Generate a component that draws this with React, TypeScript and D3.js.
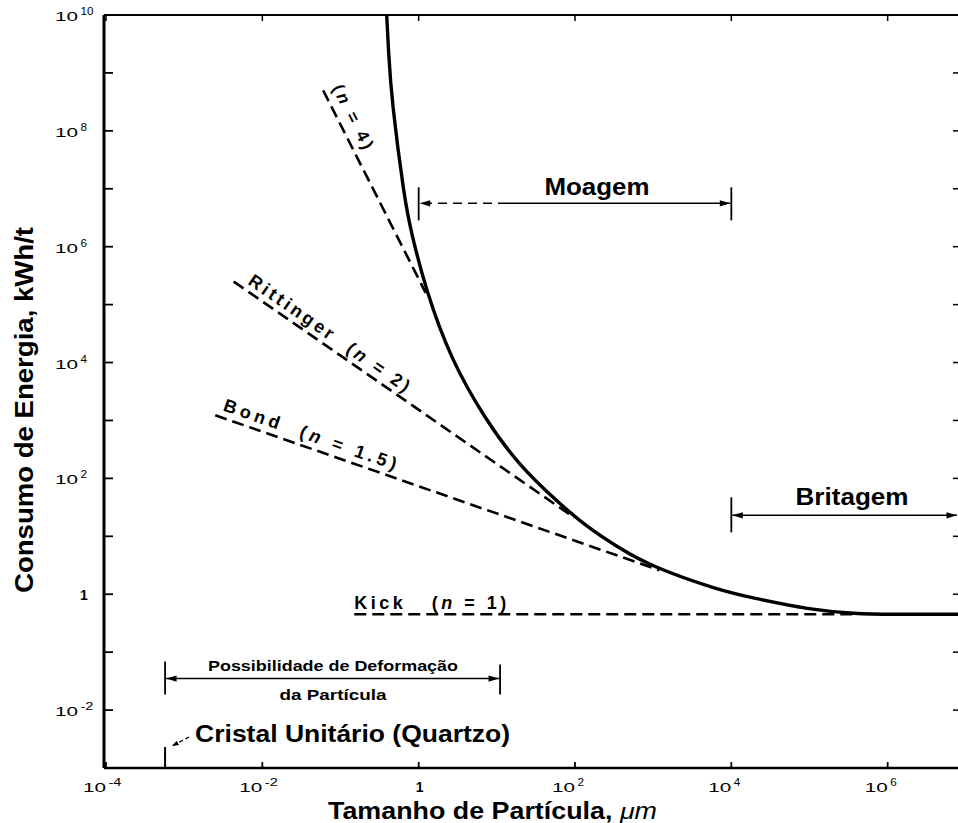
import React from 'react';
import * as d3 from 'd3';

const W = 958;
const H = 823;

// axis ticks (exponents of 10)
const yTickExps = [-2, 0, 2, 4, 6, 8, 10];
const yAllExps = [-3, -2, -1, 0, 1, 2, 3, 4, 5, 6, 7, 8, 9, 10];
const xTickExps = [-4, -2, 0, 2, 4, 6];

// solid curve: particle size (µm) vs energy (kWh/t)
const curveSize = [0.39, 0.41, 0.45, 0.66, 0.79, 1.23, 2.6, 7.2, 19, 62, 138, 363, 980, 7100, 17000, 1e5, 4e5, 1e6, 7.94e6];
const curveEnergy = [1e10, 2.5e9, 3.4e8, 6.5e6, 1.95e6, 1.8e5, 1.1e4, 1020, 170, 37.6, 15, 6.3, 2.95, 1.17, 0.89, 0.54, 0.46, 0.45, 0.45];

// dashed laws (start, end)
const n4Size = [0.06, 1.23];
const n4Energy = [5.0e8, 1.6e5];
const rittSize = [4.3e-3, 98];
const rittEnergy = [2.5e5, 21];
const bondSize = [2.5e-3, 1200];
const bondEnergy = [1230, 2.6];
const kickSize = [0.15, 4e5];
const kickEnergy = [0.45, 0.45];

// annotation ranges
const moagemRange = [1, 1e4];
const moagemDashEnd = 13.5;
const moagemLevel = 5.6e6;
const britagemRange = [1e4, 7.94e6];
const britagemLevel = 23;
const deformRange = [5.7e-4, 11];
const deformLevel = 0.035;
const cristalSize = 5.7e-4;

const FONT = "'Liberation Sans', Arial, Helvetica, sans-serif";
const NB = '\u00A0';

export default function App() {
  const x = d3.scaleLog().domain([1e-4, 7.94e6]).range([106, 958]);
  const y = d3.scaleLog().domain([1e-3, 1e10]).range([768, 15]);

  const line = d3
    .line<[number, number]>()
    .x((d) => x(d[0]))
    .y((d) => y(d[1]))
    .curve(d3.curveBasis);

  const curvePts: [number, number][] = curveSize.map((s, i) => [s, curveEnergy[i]]);

  const dashed = [
    { s: n4Size, e: n4Energy },
    { s: rittSize, e: rittEnergy },
    { s: bondSize, e: bondEnergy },
    { s: kickSize, e: kickEnergy },
  ];

  const rotLabel = (
    s: number[],
    e: number[],
    along: number,
    perp: number,
    len: number,
    content: React.ReactNode,
    fs: number
  ) => {
    const x0 = x(s[0]);
    const y0 = y(e[0]);
    const x1 = x(s[1]);
    const y1 = y(e[1]);
    const ang = Math.atan2(y1 - y0, x1 - x0);
    const deg = (ang * 180) / Math.PI;
    return (
      <g transform={`translate(${x0},${y0}) rotate(${deg})`}>
        <text
          x={along}
          y={-perp}
          fontSize={fs}
          fontWeight="bold"
          fontFamily={FONT}
          textLength={len}
          lengthAdjust="spacing"
        >
          {content}
        </text>
      </g>
    );
  };

  const nI = <tspan fontStyle="italic">n</tspan>;

  const left = x(1e-4) - 2;
  const top = y(1e10);
  const bottom = y(1e-3);

  // power-of-ten label: "10" ends at xEnd, exponent starts right after
  const powLabel = (key: string, p: number, xEnd: number, yBase: number) => {
    if (p === 0) {
      return (
        <text key={key} x={xEnd + 4} y={yBase} textAnchor="middle" fontFamily={FONT} fontSize={14} fontWeight="bold">
          1
        </text>
      );
    }
    const ex = p < 0 ? '-' + -p : String(p);
    return (
      <g key={key}>
        <text
          x={xEnd - 24}
          y={yBase}
          fontFamily={FONT}
          fontSize={13.5}
          textLength={23}
          lengthAdjust="spacingAndGlyphs"
        >
          10
        </text>
        <text
          x={xEnd + 1.5}
          y={yBase - 6}
          fontFamily={FONT}
          fontSize={10}
          textLength={ex.length * 6.5}
          lengthAdjust="spacingAndGlyphs"
        >
          {ex}
        </text>
      </g>
    );
  };

  return (
    <svg
      width={W}
      height={H}
      viewBox={`0 0 ${W} ${H}`}
      style={{ position: 'absolute', left: 0, top: 0, background: '#fff' }}
    >
      <defs>
        <marker
          id="ah"
          viewBox="0 0 12 8"
          refX="12"
          refY="4"
          markerWidth="12"
          markerHeight="7"
          markerUnits="userSpaceOnUse"
          orient="auto-start-reverse"
        >
          <path d="M0,0.5 L12,4 L0,7.5 z" fill="#000" />
        </marker>
        <marker
          id="ahs"
          viewBox="0 0 8 6"
          refX="8"
          refY="3"
          markerWidth="7"
          markerHeight="5"
          markerUnits="userSpaceOnUse"
          orient="auto"
        >
          <path d="M0,0 L8,3 L0,6 z" fill="#000" />
        </marker>
      </defs>
      <rect x={0} y={0} width={W} height={H} fill="#fff" />

      {/* frame */}
      <line x1={left} y1={top} x2={left} y2={bottom} stroke="#000" strokeWidth={3} />
      <line x1={left} y1={bottom} x2={W} y2={bottom} stroke="#000" strokeWidth={2.5} />
      <line x1={left} y1={top} x2={W} y2={top} stroke="#000" strokeWidth={2} />

      {/* left ticks */}
      {yAllExps.map((p) => (
        <line key={'yl' + p} x1={left} x2={left + 9} y1={y(10 ** p)} y2={y(10 ** p)} stroke="#000" strokeWidth={1.8} />
      ))}
      {/* right ticks */}
      {yAllExps.map((p) => (
        <line key={'yr' + p} x1={W - 5} x2={W} y1={y(10 ** p)} y2={y(10 ** p)} stroke="#000" strokeWidth={1.5} />
      ))}
      {/* bottom ticks */}
      {xTickExps.map((p) => (
        <line key={'xb' + p} x1={x(10 ** p)} x2={x(10 ** p)} y1={bottom} y2={bottom - 6} stroke="#000" strokeWidth={1.8} />
      ))}
      {/* top ticks */}
      {xTickExps.map((p) => (
        <line key={'xt' + p} x1={x(10 ** p)} x2={x(10 ** p)} y1={top} y2={top + 6} stroke="#000" strokeWidth={1.5} />
      ))}

      {/* y tick labels */}
      {yTickExps.map((p) => powLabel('ytl' + p, p, p === 0 ? 80 : 79, y(10 ** p) + 6))}

      {/* x tick labels */}
      {xTickExps.map((p) =>
        powLabel('xtl' + p, p, p === 0 ? x(10 ** p) - 3 : x(10 ** p) + 1, 792)
      )}

      {/* axis titles */}
      <text
        transform={`translate(33,410) rotate(-90)`}
        textAnchor="middle"
        fontFamily="'Liberation Sans Narrow', 'Liberation Sans', Arial, sans-serif"
        fontWeight="bold"
        fontSize={26}
        textLength={366}
        lengthAdjust="spacingAndGlyphs"
      >
        Consumo de Energia, kWh/t
      </text>
      <text
        x={328}
        y={819}
        fontFamily={FONT}
        fontWeight="bold"
        fontSize={23}
        textLength={329}
        lengthAdjust="spacingAndGlyphs"
      >
        Tamanho de Partícula, <tspan fontStyle="italic" fontWeight="normal">μm</tspan>
      </text>

      {/* dashed laws */}
      {dashed.map((d, i) => (
        <line
          key={'dl' + i}
          x1={x(d.s[0])}
          y1={y(d.e[0])}
          x2={x(d.s[1])}
          y2={y(d.e[1])}
          stroke="#000"
          strokeWidth={2.6}
          strokeDasharray="12 6"
        />
      ))}

      {/* main curve */}
      <path d={line(curvePts) || ''} fill="none" stroke="#000" strokeWidth={3.4} />

      {/* law labels */}
      {rotLabel(n4Size, n4Energy, 2, 9, 70, <>({nI}{NB}={NB}4)</>, 17)}
      {rotLabel(rittSize, rittEnergy, 12, 6, 192, <>Rittinger{NB}{NB}({nI}{NB}={NB}2)</>, 18)}
      {rotLabel(bondSize, bondEnergy, 5, 7, 182, <>Bond{NB}{NB}({nI}{NB}={NB}1.5)</>, 18)}
      <text
        x={x(kickSize[0])}
        y={y(kickEnergy[0]) - 5}
        fontFamily={FONT}
        fontWeight="bold"
        fontSize={18}
        textLength={152}
        lengthAdjust="spacing"
      >
        {`Kick${NB}${NB}${NB}(`}
        {nI}
        {`${NB}=${NB}1)`}
      </text>

      {/* Moagem */}
      <line x1={x(moagemRange[0])} x2={x(moagemRange[0])} y1={y(moagemLevel) - 16} y2={y(moagemLevel) + 17} stroke="#000" strokeWidth={1.8} />
      <line x1={x(moagemRange[1])} x2={x(moagemRange[1])} y1={y(moagemLevel) - 16} y2={y(moagemLevel) + 17} stroke="#000" strokeWidth={1.8} />
      <line
        x1={x(moagemDashEnd)}
        x2={x(moagemRange[0]) + 1}
        y1={y(moagemLevel)}
        y2={y(moagemLevel)}
        stroke="#000"
        strokeWidth={1.5}
        strokeDasharray="9 6"
        markerEnd="url(#ah)"
      />
      <line
        x1={x(moagemDashEnd)}
        x2={x(moagemRange[1]) - 1}
        y1={y(moagemLevel)}
        y2={y(moagemLevel)}
        stroke="#000"
        strokeWidth={1.5}
        markerEnd="url(#ah)"
      />
      <text x={597} y={y(moagemLevel) - 8} textAnchor="middle" fontFamily={FONT} fontWeight="bold" fontSize={23} textLength={105} lengthAdjust="spacingAndGlyphs">
        Moagem
      </text>

      {/* Britagem */}
      <line x1={x(britagemRange[0])} x2={x(britagemRange[0])} y1={y(britagemLevel) - 18} y2={y(britagemLevel) + 17} stroke="#000" strokeWidth={1.8} />
      <line
        x1={x(britagemRange[0]) + 1}
        x2={x(britagemRange[1]) - 1}
        y1={y(britagemLevel)}
        y2={y(britagemLevel)}
        stroke="#000"
        strokeWidth={1.5}
        markerStart="url(#ah)"
        markerEnd="url(#ah)"
      />
      <text x={852} y={y(britagemLevel) - 10} textAnchor="middle" fontFamily={FONT} fontWeight="bold" fontSize={23} textLength={113} lengthAdjust="spacingAndGlyphs">
        Britagem
      </text>

      {/* Possibilidade de Deformação */}
      <line x1={x(deformRange[0])} x2={x(deformRange[0])} y1={y(deformLevel) - 17} y2={y(deformLevel) + 16} stroke="#000" strokeWidth={1.8} />
      <line x1={x(deformRange[1])} x2={x(deformRange[1])} y1={y(deformLevel) - 14} y2={y(deformLevel) + 16} stroke="#000" strokeWidth={1.8} />
      <line
        x1={x(deformRange[0]) + 1}
        x2={x(deformRange[1]) - 1}
        y1={y(deformLevel)}
        y2={y(deformLevel)}
        stroke="#000"
        strokeWidth={1.5}
        markerStart="url(#ah)"
        markerEnd="url(#ah)"
      />
      <text x={333} y={y(deformLevel) - 8} textAnchor="middle" fontFamily={FONT} fontWeight="bold" fontSize={15} textLength={250} lengthAdjust="spacingAndGlyphs">
        Possibilidade de Deformação
      </text>
      <text x={333} y={y(deformLevel) + 21} textAnchor="middle" fontFamily={FONT} fontWeight="bold" fontSize={15} textLength={107} lengthAdjust="spacingAndGlyphs">
        da Partícula
      </text>

      {/* Cristal Unitário */}
      <line x1={x(cristalSize)} x2={x(cristalSize)} y1={bottom - 21} y2={bottom} stroke="#000" strokeWidth={2} />
      <line
        x1={x(cristalSize) + 24}
        y1={737}
        x2={x(cristalSize) + 7}
        y2={746}
        stroke="#000"
        strokeWidth={1.3}
        strokeDasharray="4 3"
        markerEnd="url(#ahs)"
      />
      <text x={x(cristalSize) + 30} y={742} fontFamily={FONT} fontWeight="bold" fontSize={23} textLength={315} lengthAdjust="spacingAndGlyphs">
        Cristal Unitário (Quartzo)
      </text>
    </svg>
  );
}
